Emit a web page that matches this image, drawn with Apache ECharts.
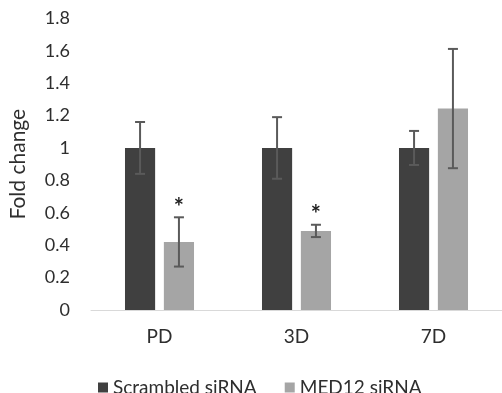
<!DOCTYPE html>
<html>
<head>
<meta charset="utf-8">
<script src="https://cdn.jsdelivr.net/npm/echarts@6/dist/echarts.min.js"></script>
<style>html,body{margin:0;padding:0;background:#fff}#c{width:502px;height:393px}</style>
</head>
<body>
<div id="c"></div>
<script>
var categories = ['PD', '3D', '7D'];
var scrambled = [1.0, 1.0, 1.0];
var scrambledErr = [0.16, 0.19, 0.105];
var med12 = [0.42, 0.488, 1.243];
var med12Err = [0.152, 0.038, 0.368];
var sigMarks = ['', '', ''];
var med12Sig = ['*', '*', ''];
var yTicks = [0, 0.2, 0.4, 0.6, 0.8, 1, 1.2, 1.4, 1.6, 1.8];

var FONT = 'Lato';
var TXT = '#2e2e2e';
var BARW = 0.22, GAP = 0.29;
var OFF = BARW * (2 + GAP) / 2 - BARW / 2; // fraction of band

function errSeries(vals, errs, sign, marks) {
  return {
    type: 'custom',
    silent: true,
    z: 5,
    data: vals.map(function (v, i) { return [i, v, errs[i]]; }),
    renderItem: function (params, api) {
      var i = api.value(0), v = api.value(1), e = api.value(2);
      var band = api.size([1, 0])[0];
      var c = api.coord([i, v]);
      var x = c[0] + sign * OFF * band;
      var top = api.coord([i, v + e])[1];
      var bot = api.coord([i, v - e])[1];
      var cap = 5;
      var st = { stroke: '#5a5a5a', lineWidth: 2 };
      var children = [
        { type: 'line', shape: { x1: x, y1: top, x2: x, y2: bot }, style: st },
        { type: 'line', shape: { x1: x - cap, y1: top, x2: x + cap, y2: top }, style: st },
        { type: 'line', shape: { x1: x - cap, y1: bot, x2: x + cap, y2: bot }, style: st }
      ];
      var m = marks[i];
      if (m) {
        children.push({ type: 'text', style: { text: m, x: x, y: top - 9, align: 'center', verticalAlign: 'middle', fontSize: 24, fontWeight: 'bold', fontFamily: FONT, fill: '#1e1e1e' } });
      }
      return { type: 'group', children: children };
    }
  };
}

var chart = echarts.init(document.getElementById('c'), null, { renderer: 'canvas' });
chart.setOption({
  animation: false,
  backgroundColor: '#fff',
  grid: { left: 87, top: 18.3, width: 418, height: 291.7, containLabel: false },
  legend: {
    data: ['Scrambled siRNA', 'MED12 siRNA'],
    left: 93, top: 373,
    icon: 'rect', itemWidth: 10, itemHeight: 10, itemGap: 28,
    textStyle: { fontFamily: FONT, fontSize: 19, color: TXT, padding: [0, 0, 0, 0] }
  },
  xAxis: {
    type: 'category', data: categories,
    axisLine: { lineStyle: { color: '#d9d9d9', width: 1 } },
    axisTick: { show: false },
    axisLabel: { fontFamily: FONT, fontSize: 19, color: TXT, margin: 17 }
  },
  yAxis: {
    type: 'value', min: 0, max: 1.8, interval: 0.2,
    name: 'Fold change', nameLocation: 'middle', nameGap: 62, nameRotate: 90,
    nameTextStyle: { fontFamily: FONT, fontSize: 21, color: TXT },
    axisLine: { show: false }, axisTick: { show: false }, splitLine: { show: false },
    axisLabel: { fontFamily: FONT, fontSize: 18, color: TXT, margin: 21,
      formatter: function (v) { var t = yTicks.filter(function (k) { return Math.abs(k - v) < 1e-6; }); return t.length ? String(t[0]) : ''; } }
  },
  series: [
    { name: 'Scrambled siRNA', type: 'bar', data: scrambled, barWidth: (BARW * 100) + '%', barGap: (GAP * 100) + '%', itemStyle: { color: '#404040' } },
    { name: 'MED12 siRNA', type: 'bar', data: med12, barWidth: (BARW * 100) + '%', itemStyle: { color: '#a5a5a5' } },
    errSeries(scrambled, scrambledErr, -1, sigMarks),
    errSeries(med12, med12Err, 1, med12Sig)
  ]
});
</script>
</body>
</html>
